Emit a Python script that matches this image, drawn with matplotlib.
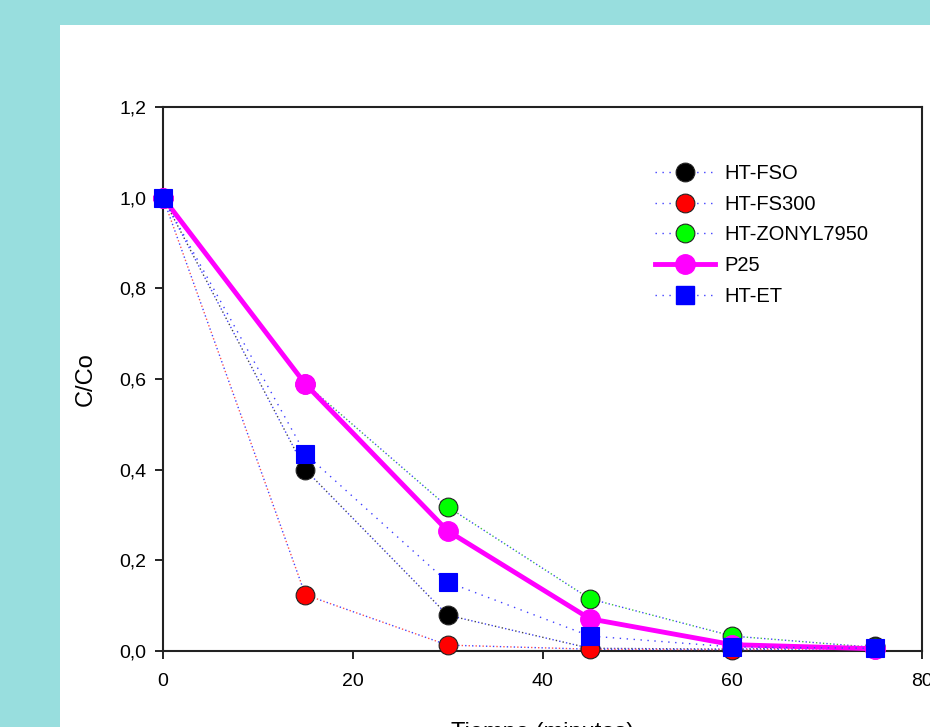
import matplotlib
matplotlib.use("Agg")
import matplotlib.pyplot as plt
from matplotlib.patches import Rectangle
from matplotlib.lines import Line2D
from matplotlib.ticker import FuncFormatter

plt.rcParams['font.family'] = ['Liberation Sans', 'DejaVu Sans']

# ---- data ----
tiempo = [0, 15, 30, 45, 60, 75]
ht_fso = [1.0, 0.40, 0.079, 0.006, 0.004, 0.010]
ht_fs300 = [1.0, 0.124, 0.013, 0.004, 0.003, 0.005]
ht_zonyl = [1.0, 0.59, 0.318, 0.115, 0.033, 0.008]
p25 = [1.0, 0.589, 0.265, 0.071, 0.014, 0.005]
ht_et = [1.0, 0.435, 0.152, 0.033, 0.009, 0.006]

labels = ["HT-FSO", "HT-FS300", "HT-ZONYL7950", "P25", "HT-ET"]
x_ticks = [0, 20, 40, 60, 80]
y_ticks = [0.0, 0.2, 0.4, 0.6, 0.8, 1.0, 1.2]

W, H = 930, 727
fig = plt.figure(figsize=(W / 100, H / 100), dpi=100)
fig.patch.set_facecolor('#98DEDE')
fig.add_artist(Rectangle((60 / W, 0), 1, 1 - 25 / H, transform=fig.transFigure,
                         facecolor='white', edgecolor='none', zorder=0))

ax = fig.add_axes([163 / W, 1 - 651 / H, (922 - 163) / W, (651 - 107) / H])
ax.set_facecolor('white')

ms = 13.5
DOT = (0, (1, 4))

def dotted_series(y, color, marker, mfc, mec, z):
    ax.plot(tiempo, y, linestyle=DOT, color='#4040ff', linewidth=1.0, zorder=z)
    if color is not None:
        ax.plot(tiempo, y, linestyle=(2.5, (1, 4)), color=color, linewidth=1.0, zorder=z)
    ax.plot(tiempo, y, linestyle='none', marker=marker, markersize=ms,
            markerfacecolor=mfc, markeredgecolor=mec, markeredgewidth=0.8,
            zorder=z + 0.5, clip_on=False)

dotted_series(ht_fso, '#444444', 'o', 'black', '#222222', 3)
dotted_series(ht_fs300, '#ff5050', 'o', 'red', '#222222', 4)
dotted_series(ht_zonyl, '#40c040', 'o', '#00ff00', '#222222', 5)
ax.plot(tiempo, p25, color='#ff00ff', linewidth=3.5, marker='o', markersize=ms + 0.5,
        markerfacecolor='#ff00ff', markeredgecolor='#ff00ff', zorder=6, clip_on=False)
dotted_series(ht_et, None, 's', '#0000ff', '#0000ff', 7)

ax.set_xlim(0, 80)
ax.set_ylim(0, 1.2)
ax.set_xticks(x_ticks)
ax.set_yticks(y_ticks)
ax.yaxis.set_major_formatter(FuncFormatter(lambda v, p: f"{v:.1f}".replace('.', ',')))
ax.tick_params(direction='out', length=6, width=1.2, labelsize=14, pad=6, colors='black')
ax.tick_params(axis='x', pad=10)
for s in ax.spines.values():
    s.set_linewidth(1.5)
    s.set_color('#222222')

ax.set_ylabel("C/Co", fontsize=17, labelpad=16)
ax.set_xlabel("Tiempo (minutos)", fontsize=17, labelpad=23)

# legend
def h_dotted(marker, mfc, mec):
    return Line2D([], [], linestyle=DOT, color='#4040ff', linewidth=1.0,
                  marker=marker, markersize=ms, markerfacecolor=mfc, markeredgecolor=mec,
                  markeredgewidth=0.8)

handles = [
    h_dotted('o', 'black', '#222222'),
    h_dotted('o', 'red', '#222222'),
    h_dotted('o', '#00ff00', '#222222'),
    Line2D([], [], color='#ff00ff', linewidth=3.5, marker='o', markersize=ms + 0.5,
           markerfacecolor='#ff00ff', markeredgecolor='#ff00ff'),
    Line2D([], [], linestyle=DOT, color='#4040ff', linewidth=1.0, marker='s',
           markersize=ms, markerfacecolor='#0000ff', markeredgecolor='#0000ff'),
]
leg = ax.legend(handles, labels, loc='upper left',
                bbox_to_anchor=((647 - 163) / (922 - 163), (651 - 156) / (651 - 107)),
                frameon=False, fontsize=14.5, handlelength=3.0, handletextpad=0.45,
                labelspacing=0.58, borderaxespad=0)

fig.savefig("out.png", dpi=100, facecolor=fig.get_facecolor())
